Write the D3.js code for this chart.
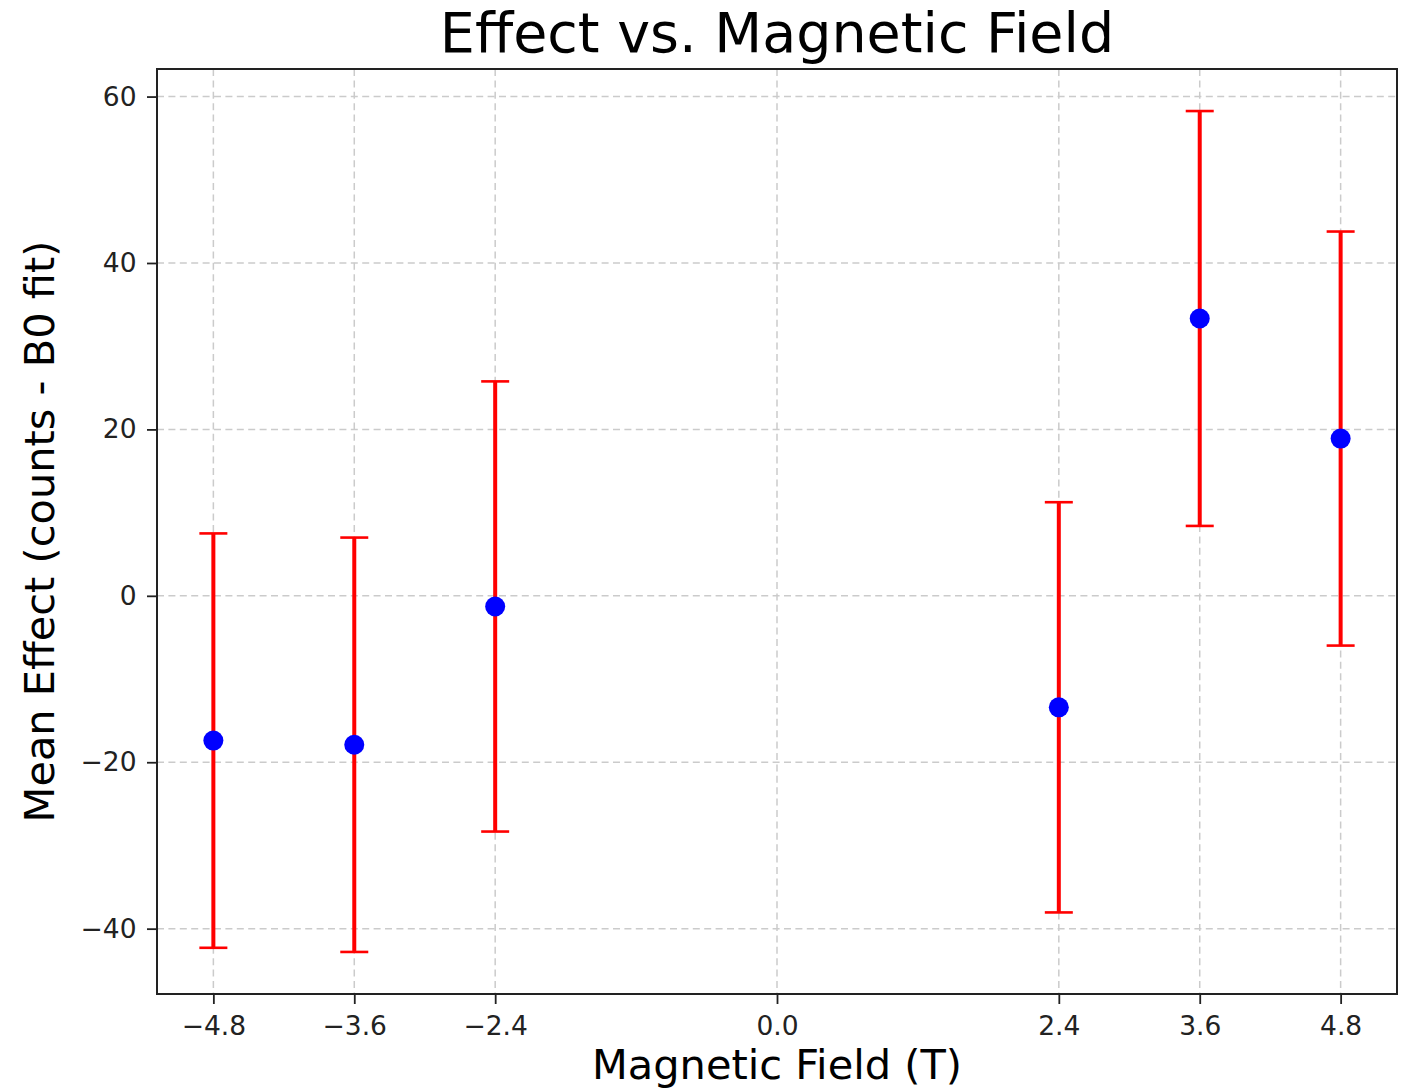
<!DOCTYPE html>
<html>
<head>
<meta charset="utf-8">
<script src="https://cdn.jsdelivr.net/npm/d3@7"></script>
<style>
  html, body { margin: 0; padding: 0; background: #ffffff; overflow: hidden; }
  svg { display: block; font-family: "DejaVu Sans", sans-serif; }
</style>
</head>
<body>
<script>
// ---- Data ----
const fields = [-4.8, -3.6, -2.4, 2.4, 3.6, 4.8];
const means  = [-17.4, -17.9, -1.28, -13.4, 33.33, 18.9];
const errors = [24.9, 24.9, 27.05, 24.65, 24.93, 24.88];
const xTickValues = [-4.8, -3.6, -2.4, 0.0, 2.4, 3.6, 4.8];
const yTickValues = [-40, -20, 0, 20, 40, 60];
const titleText = "Effect vs. Magnetic Field";
const xLabelText = "Magnetic Field (T)";
const yLabelText = "Mean Effect (counts - B0 fit)";

// ---- Layout ----
const W = 1406, H = 1090;
const plot = { left: 157, right: 1397, top: 69, bottom: 994 };

const svg = d3.select("body").append("svg")
  .attr("width", W).attr("height", H);

const data = fields.map((f, i) => ({ x: f, y: means[i], e: errors[i] }));

const xMin = d3.min(fields), xMax = d3.max(fields);
const xPad = 0.05 * (xMax - xMin);
const yLo = d3.min(data, d => d.y - d.e), yHi = d3.max(data, d => d.y + d.e);
const yPad = 0.05 * (yHi - yLo);

const x = d3.scaleLinear().domain([xMin - xPad, xMax + xPad]).range([plot.left, plot.right]);
const y = d3.scaleLinear().domain([yLo - yPad, yHi + yPad]).range([plot.bottom, plot.top]);

const fmtMinus = s => s.replace("-", "\u2212");

// ---- Grid ----
const grid = svg.append("g");
grid.selectAll("line.vg").data(xTickValues).join("line")
  .attr("x1", d => x(d)).attr("x2", d => x(d))
  .attr("y1", plot.top).attr("y2", plot.bottom)
  .attr("stroke", "#cbcbcb").attr("stroke-width", 1.5)
  .attr("stroke-dasharray", "7,4.4");
grid.selectAll("line.hg").data(yTickValues).join("line")
  .attr("y1", d => y(d)).attr("y2", d => y(d))
  .attr("x1", plot.left).attr("x2", plot.right)
  .attr("stroke", "#cbcbcb").attr("stroke-width", 1.5)
  .attr("stroke-dasharray", "7,4.4");

// ---- Axes ----
const xAxis = d3.axisBottom(x).tickValues(xTickValues)
  .tickFormat(d => fmtMinus(d3.format(".1f")(d))).tickSize(10).tickPadding(12);
const yAxis = d3.axisLeft(y).tickValues(yTickValues)
  .tickFormat(d => fmtMinus(d3.format("d")(d))).tickSize(10).tickPadding(10.5);

const gx = svg.append("g").attr("transform", `translate(0,${plot.bottom})`).call(xAxis);
const gy = svg.append("g").attr("transform", `translate(${plot.left},0)`).call(yAxis);
[gx, gy].forEach(g => {
  g.attr("font-family", "'DejaVu Sans', sans-serif").attr("font-size", 26.5);
  g.select(".domain").remove();
  g.selectAll(".tick line").attr("stroke", "#222").attr("stroke-width", 1.8);
  g.selectAll(".tick text").attr("fill", "#222")
    .style("font-family", "'DejaVu Sans', sans-serif").style("font-size", "26.5px");
});

// ---- Error bars ----
const eb = svg.append("g");
eb.selectAll("line.bar").data(data).join("line")
  .attr("x1", d => x(d.x)).attr("x2", d => x(d.x))
  .attr("y1", d => y(d.y - d.e)).attr("y2", d => y(d.y + d.e))
  .attr("stroke", "#ff0000").attr("stroke-width", 4);
const capHalf = 14;
eb.selectAll("line.capTop").data(data).join("line")
  .attr("x1", d => x(d.x) - capHalf).attr("x2", d => x(d.x) + capHalf)
  .attr("y1", d => y(d.y + d.e)).attr("y2", d => y(d.y + d.e))
  .attr("stroke", "#ff0000").attr("stroke-width", 2.6);
eb.selectAll("line.capBot").data(data).join("line")
  .attr("x1", d => x(d.x) - capHalf).attr("x2", d => x(d.x) + capHalf)
  .attr("y1", d => y(d.y - d.e)).attr("y2", d => y(d.y - d.e))
  .attr("stroke", "#ff0000").attr("stroke-width", 2.6);

// ---- Markers ----
svg.append("g").selectAll("circle").data(data).join("circle")
  .attr("cx", d => x(d.x)).attr("cy", d => y(d.y)).attr("r", 10)
  .attr("fill", "#0000ff");

// ---- Frame ----
svg.append("rect")
  .attr("x", plot.left).attr("y", plot.top)
  .attr("width", plot.right - plot.left).attr("height", plot.bottom - plot.top)
  .attr("fill", "none").attr("stroke", "#222").attr("stroke-width", 2);

// ---- Labels ----
svg.append("text").attr("x", (plot.left + plot.right) / 2).attr("y", 52)
  .attr("text-anchor", "middle").style("font-size", "55.5px").attr("fill", "#000")
  .text(titleText);
svg.append("text").attr("x", (plot.left + plot.right) / 2).attr("y", 1079)
  .attr("text-anchor", "middle").style("font-size", "41.5px").attr("fill", "#000")
  .text(xLabelText);
svg.append("text")
  .attr("transform", `translate(54,${(plot.top + plot.bottom) / 2}) rotate(-90)`)
  .attr("text-anchor", "middle").style("font-size", "41.5px").attr("fill", "#000")
  .text(yLabelText);
</script>
</body>
</html>
